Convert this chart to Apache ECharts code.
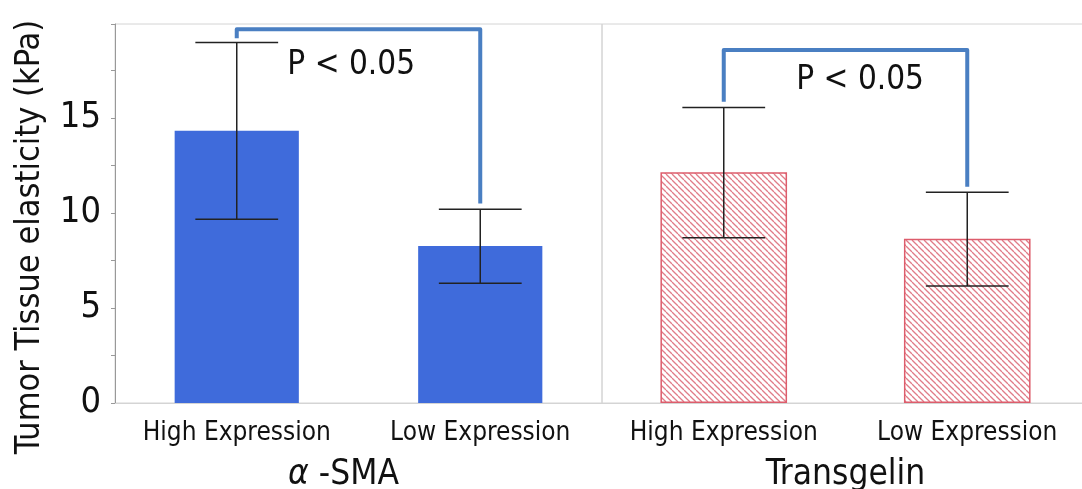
<!DOCTYPE html>
<html>
<head>
<meta charset="utf-8">
<script src="https://cdn.jsdelivr.net/npm/echarts@6/dist/echarts.min.js"></script>
<style>
  html, body { margin: 0; padding: 0; background: #fff; }
  #chart { width: 1082px; height: 489px; }
</style>
</head>
<body>
<div id="chart"></div>
<script>
// Tumor tissue elasticity, alpha-SMA vs Transgelin (high / low expression)

const categories = ['High Expression', 'Low Expression'];
const groupNames = ['α -SMA', 'Transgelin'];

// bar means and error-bar ends (kPa)
const smaMean = [14.33, 8.26];
const smaLow  = [9.67, 6.30];
const smaHigh = [18.98, 10.20];

const tagMean = [12.14, 8.65];
const tagLow  = [8.70, 6.16];
const tagHigh = [15.56, 11.09];

// significance brackets: [left stub bottom, top, right end]
const smaBracket = [19.20, 19.68, 10.50];
const tagBracket = [15.86, 18.58, 11.38];
const pText = 'P < 0.05';
const pTextY = [17.75, 17.0];

const yTicks = [0, 5, 10, 15];

const FONT = '"DejaVu Sans Condensed", sans-serif';
const BLUE = '#3f6bdb';
const BRACKET = '#4a7fc2';
const GRID_BORDER = '#d4d4d4';
// where the P label sits along each bracket (0 = left leg, 1 = right leg)
const P_ALONG = [0.47, 0.56];

// red diagonal hatch used for the Transgelin bars
function hatchPattern() {
  const s = 6;
  const c = document.createElement('canvas');
  c.width = s; c.height = s;
  const g = c.getContext('2d');
  g.fillStyle = '#fff';
  g.fillRect(0, 0, s, s);
  g.strokeStyle = '#e07c88';
  g.lineWidth = 1.3;
  for (let k = -1; k <= 1; k++) {
    g.beginPath();
    g.moveTo(k * s, 0);
    g.lineTo(k * s + s, s);
    g.stroke();
  }
  return c;
}

const chart = echarts.init(document.getElementById('chart'), null, { renderer: 'canvas' });

function xAxisFor(i, name, namePad) {
  return {
    type: 'category',
    gridIndex: i,
    data: categories,
    axisLine: { show: true, lineStyle: { color: GRID_BORDER, width: 1 } },
    axisTick: { show: false },
    axisLabel: { interval: 0, hideOverlap: false, color: '#111', fontSize: 26, fontFamily: FONT, margin: 17 },
    name: name,
    nameLocation: 'middle',
    nameGap: 54,
    nameTextStyle: {
      color: '#111', fontSize: 35, fontFamily: FONT, padding: namePad,
      rich: { a: { fontStyle: 'italic', fontSize: 35, fontFamily: FONT, color: '#111' } }
    }
  };
}

function yAxisFor(i) {
  return {
    type: 'value',
    gridIndex: i,
    min: 0,
    max: 19.95,
    interval: 5,
    axisLine: { show: i === 0, lineStyle: { color: '#999', width: 1 } },
    axisTick: { show: i === 0, length: 4, lineStyle: { color: '#999' } },
    minorTick: { show: i === 0, splitNumber: 2, length: 4, lineStyle: { color: '#999' } },
    splitLine: { show: false },
    axisLabel: {
      show: i === 0, color: '#111', fontSize: 36, fontFamily: FONT, margin: 14,
      formatter: v => (yTicks.indexOf(v) >= 0 ? String(v) : '')
    }
  };
}

function errorSeries(idx, low, high) {
  return {
    type: 'custom',
    xAxisIndex: idx,
    yAxisIndex: idx,
    z: 5,
    data: categories.map((c, i) => [i, low[i], high[i]]),
    renderItem: function (params, api) {
      const x = api.value(0);
      const lo = api.coord([x, api.value(1)]);
      const hi = api.coord([x, api.value(2)]);
      const half = api.size([1, 0])[0] * 0.17;
      const st = { stroke: '#222', lineWidth: 1.5 };
      return {
        type: 'group',
        children: [
          { type: 'line', shape: { x1: lo[0], y1: lo[1], x2: hi[0], y2: hi[1] }, style: st },
          { type: 'line', shape: { x1: hi[0] - half, y1: hi[1], x2: hi[0] + half, y2: hi[1] }, style: st },
          { type: 'line', shape: { x1: lo[0] - half, y1: lo[1], x2: lo[0] + half, y2: lo[1] }, style: st }
        ]
      };
    }
  };
}

function bracketSeries(idx, b, ty) {
  return {
    type: 'custom',
    xAxisIndex: idx,
    yAxisIndex: idx,
    z: 6,
    data: [[0, 1, b[0], b[1], b[2], ty]],
    renderItem: function (params, api) {
      const p1 = api.coord([api.value(0), api.value(2)]);
      const p2 = api.coord([api.value(0), api.value(3)]);
      const p3 = api.coord([api.value(1), api.value(3)]);
      const p4 = api.coord([api.value(1), api.value(4)]);
      const ty = api.coord([0, api.value(5)])[1];
      const tx = p2[0] + (p3[0] - p2[0]) * P_ALONG[idx];
      return {
        type: 'group',
        children: [
          {
            type: 'polyline',
            shape: { points: [p1, p2, p3, p4] },
            style: { stroke: BRACKET, lineWidth: 4, fill: null, lineJoin: 'round' }
          },
          {
            type: 'text',
            x: tx, y: ty,
            style: {
              text: pText, fill: '#111', fontSize: 33, fontFamily: FONT,
              align: 'center', verticalAlign: 'middle'
            }
          }
        ]
      };
    }
  };
}

chart.setOption({
  animation: false,
  backgroundColor: '#fff',
  grid: [
    { left: 115, top: 24, width: 487, height: 379, show: true, borderColor: GRID_BORDER, borderWidth: 1, outerBoundsMode: 'none' },
    { left: 602, top: 24, width: 487, height: 379, show: true, borderColor: GRID_BORDER, borderWidth: 1, outerBoundsMode: 'none' }
  ],
  xAxis: [
    xAxisFor(0, '{a|α} -SMA', [0, 30, 0, 0]),
    xAxisFor(1, groupNames[1], 0)
  ],
  yAxis: [yAxisFor(0), yAxisFor(1)],
  graphic: [{
    type: 'text',
    x: 30, y: 237,
    rotation: Math.PI / 2,
    style: {
      text: 'Tumor Tissue elasticity (kPa)',
      fill: '#111', fontSize: 34, fontFamily: FONT,
      align: 'center', verticalAlign: 'middle'
    }
  }],
  series: [
    {
      type: 'bar',
      xAxisIndex: 0, yAxisIndex: 0,
      data: smaMean,
      barWidth: '51%',
      itemStyle: { color: BLUE }
    },
    {
      type: 'bar',
      xAxisIndex: 1, yAxisIndex: 1,
      data: tagMean,
      barWidth: '52%',
      itemStyle: {
        color: { image: hatchPattern(), repeat: 'repeat' },
        borderColor: '#dd5d6c',
        borderWidth: 1.5
      }
    },
    errorSeries(0, smaLow, smaHigh),
    errorSeries(1, tagLow, tagHigh),
    bracketSeries(0, smaBracket, pTextY[0]),
    bracketSeries(1, tagBracket, pTextY[1])
  ]
});
</script>
</body>
</html>
